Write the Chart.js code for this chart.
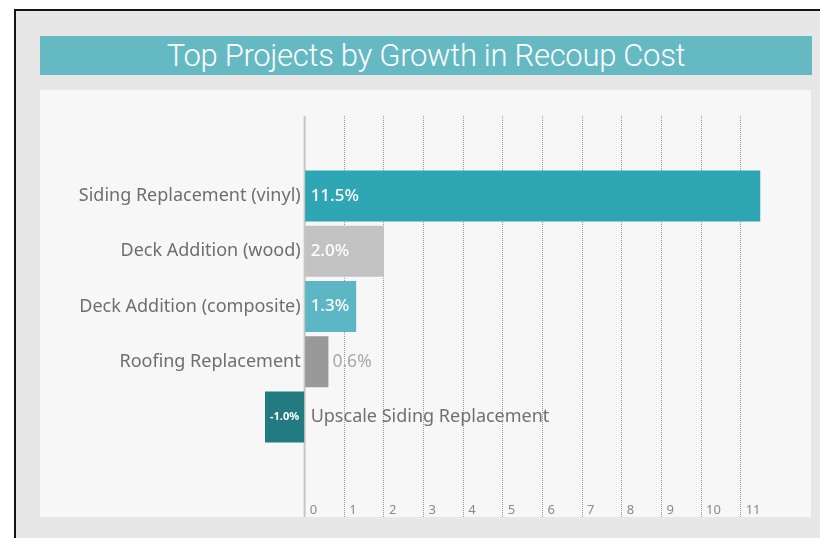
<!DOCTYPE html>
<html>
<head>
<meta charset="utf-8">
<script src="https://cdn.jsdelivr.net/npm/chart.js@4"></script>
<style>
    html, body { margin: 0; padding: 0; background: #fff; width: 820px; height: 538px; overflow: hidden; }
    .frame {
        position: absolute; left: 14px; top: 9px; width: 820px; height: 540px;
        border-left: 2px solid #151515; border-top: 2px solid #151515;
        background: #e7e7e7;
    }
    .titulo {
        position: absolute; left: 40px; top: 36px; width: 772px; height: 39px;
        background: #65b9c3; color: #fff; text-align: center;
        font-family: 'Roboto', sans-serif; font-weight: 300; font-size: 31px; line-height: 40px;
        letter-spacing: -0.3px;
    }
    .panel {
        position: absolute; left: 40px; top: 90px; width: 771px; height: 427px; background: #f7f7f7;
    }
    canvas { display: block; }
</style>
</head>
<body>
<div class="frame"></div>
<div class="titulo">Top Projects by Growth in Recoup Cost</div>
<div class="panel"><canvas id="chartProyectos" width="771" height="427"></canvas></div>
<script>
    const proyectos = ['Siding Replacement (vinyl)', 'Deck Addition (wood)', 'Deck Addition (composite)', 'Roofing Replacement', 'Upscale Siding Replacement'];
    const crecimiento = [11.5, 2.0, 1.3, 0.6, -1.0];
    const colores = ['#2ea6b3', '#c2c2c2', '#5cb6c3', '#999999', '#237b82'];
    const marcasX = [0, 1, 2, 3, 4, 5, 6, 7, 8, 9, 10, 11];

    const fuente = "'Noto Sans', 'Open Sans', sans-serif";

    // etiquetas de valor + etiqueta de categoria para negativos + linea del cero
    const etiquetasPlugin = {
        id: 'etiquetas',
        beforeDatasetsDraw(chart) {
            const { ctx, scales: { x }, chartArea } = chart;
            const x0 = x.getPixelForValue(0);
            ctx.save();
            ctx.strokeStyle = '#c6c6c6';
            ctx.lineWidth = 2;
            ctx.beginPath();
            ctx.moveTo(x0, chartArea.top);
            ctx.lineTo(x0, chart.height);
            ctx.stroke();
            ctx.restore();
        },
        afterDatasetsDraw(chart) {
            const { ctx, scales: { x } } = chart;
            const x0 = x.getPixelForValue(0);
            const meta = chart.getDatasetMeta(0);
            ctx.save();
            ctx.textBaseline = 'middle';
            meta.data.forEach((bar, i) => {
                const v = crecimiento[i];
                const txt = v.toFixed(1) + '%';
                if (v >= 1) {
                    ctx.font = `500 17px ${fuente}`;
                    ctx.fillStyle = '#ffffff';
                    ctx.textAlign = 'left';
                    ctx.fillText(txt, x0 + 6, bar.y);
                } else if (v >= 0) {
                    ctx.font = `17.5px ${fuente}`;
                    ctx.fillStyle = '#a8a8a8';
                    ctx.textAlign = 'left';
                    ctx.fillText(txt, bar.x + 4, bar.y);
                } else {
                    ctx.font = `bold 11px ${fuente}`;
                    ctx.fillStyle = '#ffffff';
                    ctx.textAlign = 'center';
                    ctx.fillText(txt, (bar.x + bar.base) / 2, bar.y);
                    ctx.font = `18px ${fuente}`;
                    ctx.fillStyle = '#707070';
                    ctx.textAlign = 'left';
                    ctx.fillText(proyectos[i], x0 + 6, bar.y);
                }
            });
            ctx.restore();
        }
    };

    new Chart(document.getElementById('chartProyectos').getContext('2d'), {
        type: 'bar',
        data: {
            datasets: [{
                data: crecimiento.map((v, i) => ({ x: v, y: i })),
                backgroundColor: colores,
                borderWidth: 0,
                categoryPercentage: 1,
                barPercentage: 0.925
            }]
        },
        options: {
            indexAxis: 'y',
            responsive: false,
            animation: false,
            layout: { padding: { top: 26, right: 50.5, left: 225, bottom: 0 } },
            plugins: { legend: { display: false }, tooltip: { enabled: false } },
            scales: {
                x: {
                    type: 'linear',
                    min: -1,
                    max: 11.5,
                    afterBuildTicks: (scale) => { scale.ticks = marcasX.map((v) => ({ value: v })); },
                    afterFit: (scale) => { scale.height = 17; },
                    border: { display: false, dash: [1, 1] },
                    grid: {
                        color: (c) => (c.tick && c.tick.value > 0) ? '#979797' : 'transparent',
                        lineWidth: 1,
                        drawTicks: true,
                        tickLength: 17,
                        tickColor: (c) => (c.tick && c.tick.value > 0) ? '#979797' : 'transparent',
                        tickBorderDash: [1, 1]
                    },
                    ticks: {
                        autoSkip: false,
                        maxRotation: 0,
                        align: 'start',
                        labelOffset: 5,
                        padding: -15,
                        color: '#8a8a8a',
                        font: { family: fuente, size: 13 },
                        callback: (v) => String(v)
                    }
                },
                y: {
                    type: 'linear',
                    position: { x: -0.1 },
                    reverse: true,
                    offset: false,
                    bounds: 'data',
                    min: -1.448,
                    max: 5.502,
                    afterBuildTicks: (scale) => { scale.ticks = proyectos.map((p, i) => ({ value: i })); },
                    border: { display: false },
                    grid: { display: false, drawTicks: false, offset: false },
                    ticks: {
                        padding: 0,
                        color: (c) => crecimiento[c.index] < 0 ? 'transparent' : '#6e6e6e',
                        font: { family: fuente, size: 18 },
                        callback: (v) => proyectos[v] || ''
                    }
                }
            }
        },
        plugins: [etiquetasPlugin]
    });
</script>
</body>
</html>
